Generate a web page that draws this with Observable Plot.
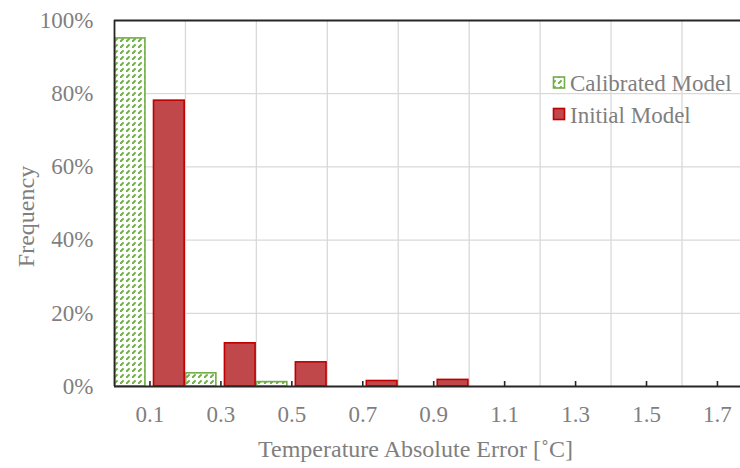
<!DOCTYPE html>
<html><head><meta charset="utf-8">
<script src="https://cdn.jsdelivr.net/npm/d3@7"></script>
<script src="https://cdn.jsdelivr.net/npm/@observablehq/plot@0.6"></script>
<style>html,body{margin:0;padding:0;background:#fff;overflow:hidden}</style>
</head><body><div id="chart"></div>
<script>
// Data
const binStarts = [0, 0.2, 0.4, 0.6, 0.8, 1.0, 1.2, 1.4, 1.6];
const binWidth = 0.2;
const calibrated = [0.951, 0.036, 0.012, 0, 0, 0, 0, 0, 0];
const initial = [0.781, 0.118, 0.066, 0.015, 0.018, 0, 0, 0, 0];
const seriesNames = ["Calibrated Model", "Initial Model"];
const xTicks = [0.1, 0.3, 0.5, 0.7, 0.9, 1.1, 1.3, 1.5, 1.7];
const xGrid = [0.2, 0.4, 0.6, 0.8, 1.0, 1.2, 1.4, 1.6];
const yTicks = [0, 0.2, 0.4, 0.6, 0.8, 1.0];
const yGrid = [0.2, 0.4, 0.6, 0.8];
const xLabel = "Temperature Absolute Error [˚C]";
const yLabel = "Frequency";

const FONT = "'Liberation Serif','Times New Roman',serif";
const GRAY = "#7f7f7f";
const AX = "#262626";
const GREEN = "#70ad47";
const RED_FILL = "#c0474a";
const RED_STROKE = "#c00000";

const rows = binStarts.map((b, i) => ({x1: b, x2: b + binWidth, cal: calibrated[i], init: initial[i]}));

const plot = Plot.plot({
  width: 740, height: 468,
  marginLeft: 114, marginTop: 20, marginBottom: 82, marginRight: 0,
  style: {fontFamily: FONT, background: "#fff", color: GRAY, fontSize: "23px"},
  x: {domain: [0, 1.765]},
  y: {domain: [0, 1]},
  marks: [
    Plot.ruleX(xGrid, {x: d => d, stroke: "#d9d9d9", strokeWidth: 1.3}),
    Plot.ruleY(yGrid, {y: d => d, stroke: "#d9d9d9", strokeWidth: 1.3}),
    Plot.rectY(rows.filter(d => d.cal > 0), {x1: "x1", x2: "x2", y: "cal", insetLeft: 0.75, insetRight: 40,
      fill: "url(#hatchGreen)", stroke: GREEN, strokeWidth: 1.6}),
    Plot.rectY(rows.filter(d => d.init > 0), {x1: "x1", x2: "x2", y: "init", insetLeft: 39.5, insetRight: 0.75,
      fill: RED_FILL, stroke: RED_STROKE, strokeWidth: 1.6}),
    Plot.ruleY([0], {stroke: AX, strokeWidth: 1.8}),
    Plot.ruleY([1], {stroke: AX, strokeWidth: 1.8}),
    Plot.ruleX([0], {stroke: AX, strokeWidth: 1.8}),
    Plot.tickX(xTicks, {x: d => d, insetTop: 361, stroke: AX, strokeWidth: 1.6}),
    Plot.axisX({ticks: xTicks, tickSize: 0, tickPadding: 19, tickFormat: d3.format(".1f"), label: null, fill: GRAY, fontSize: 23}),
    Plot.axisY({ticks: yTicks, tickSize: 0, tickPadding: 21, tickFormat: d3.format(".0%"), label: null, fill: GRAY, fontSize: 23}),
    Plot.text([xLabel], {text: d => d, frameAnchor: "bottom", textAnchor: "middle", lineAnchor: "middle", dy: 63, dx: -12, fontSize: 24, fill: GRAY}),
    Plot.text([yLabel], {text: d => d, frameAnchor: "left", textAnchor: "middle", lineAnchor: "middle", rotate: -90, dx: -88, dy: 13, fontSize: 24, fill: GRAY})
  ]
});

const svg = d3.select(plot);
const defs = svg.insert("defs", ":first-child");
const pat = defs.append("pattern").attr("id", "hatchGreen").attr("patternUnits", "userSpaceOnUse")
  .attr("width", 6).attr("height", 6);
pat.append("rect").attr("width", 6).attr("height", 6).attr("fill", "#fff");
pat.append("path").attr("d", "M0,6 L3.6,2.4").attr("stroke", GREEN).attr("stroke-width", 2).attr("fill", "none");

// Legend inside the plot area
const leg = svg.append("g").attr("font-family", FONT).attr("font-size", 23).attr("fill", GRAY).attr("text-anchor", "start");
const legendItems = [
  {name: seriesNames[0], fill: "url(#hatchGreen)", stroke: GREEN, y: 77},
  {name: seriesNames[1], fill: RED_FILL, stroke: RED_STROKE, y: 108.5}
];
legendItems.forEach(it => {
  leg.append("rect").attr("x", 553.5).attr("y", it.y).attr("width", 11).attr("height", 11)
    .attr("fill", it.fill).attr("stroke", it.stroke).attr("stroke-width", 1.6);
  leg.append("text").attr("x", 570).attr("y", it.y + 14).attr("text-anchor", "start").text(it.name);
});

document.getElementById("chart").appendChild(plot);
</script>
</body></html>
